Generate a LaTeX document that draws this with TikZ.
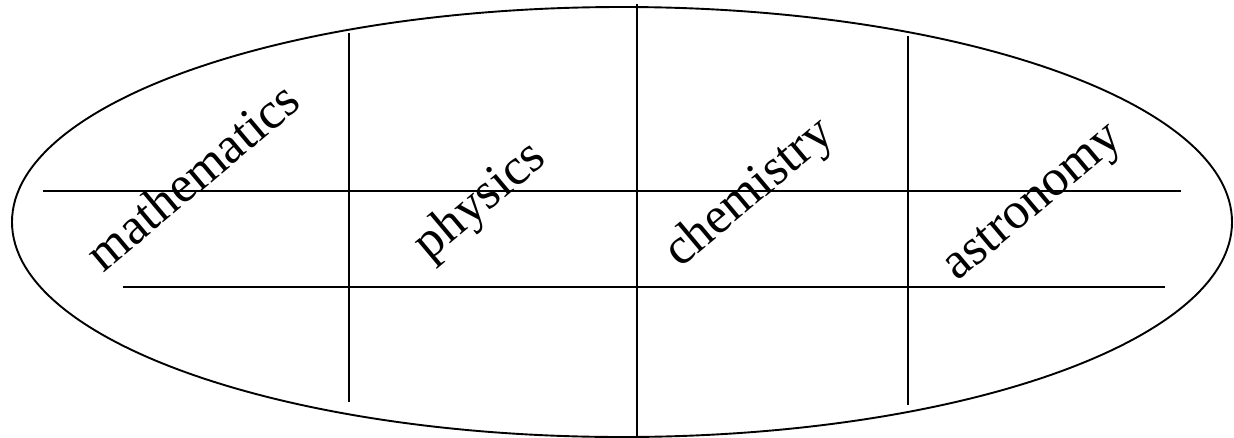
\documentclass[tikz,border=0pt]{standalone}
\usepackage{fontspec}
\setmainfont{Liberation Serif}
\begin{document}
\begin{tikzpicture}[x=1pt,y=-1pt,
  rule/.style={line width=1.9pt,black},
  lbl/.style={rotate=40,inner sep=0pt,font=\fontsize{51.5}{58}\selectfont}]
\useasboundingbox (0,0) rectangle (1234,437);
\draw[rule] (622,222) ellipse [x radius=610, y radius=215];
% vertical rules
\coordinate (v1t) at (349,33);  \coordinate (v1b) at (349,402);
\coordinate (v2t) at (637,4);   \coordinate (v2b) at (637,437);
\coordinate (v3t) at (908,36);  \coordinate (v3b) at (908,405);
\draw[rule] (v1t) -- (v1b);
\draw[rule] (v2t) -- (v2b);
\draw[rule] (v3t) -- (v3b);
% horizontal rules
\coordinate (h1l) at (43,191);  \coordinate (h1r) at (1181,191);
\coordinate (h2l) at (123,287); \coordinate (h2r) at (1165,287);
\draw[rule] (h1l) -- (h1r);
\draw[rule] (h2l) -- (h2r);
% labels
\node[lbl] (math) at (192,176) {mathematics};
\node[lbl] (phys) at (481,202) {physics};
\node[lbl] (chem) at (750,194) {chemistry};
\node[lbl] (astr) at (1035,205) {astronomy};
\end{tikzpicture}
\end{document}
